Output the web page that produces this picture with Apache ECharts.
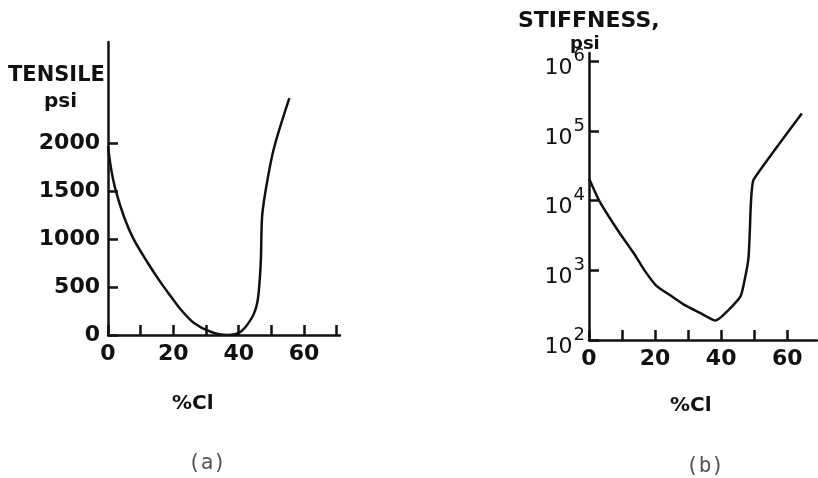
<!DOCTYPE html>
<html><head><meta charset="utf-8">
<script src="https://cdn.jsdelivr.net/npm/echarts@6/dist/echarts.min.js"></script>
<style>html,body{margin:0;padding:0;background:#fff}#c{width:818px;height:478px}</style>
</head><body><div id="c"></div>
<script>
// Panel (a): tensile strength vs % Cl
const tensileX = [0, 1, 2.4, 5, 7.8, 12, 16, 19, 22.2, 26.2, 31.4, 36.5, 40.6, 44.2, 45.7, 46.4, 46.8, 47.2, 48.8, 50.9, 55.5];
const tensileY = [1960, 1720, 1500, 1220, 1000, 760, 553, 412, 268, 128, 34, 0, 34, 190, 340, 560, 800, 1250, 1615, 1960, 2465];
// Panel (b): stiffness vs % Cl (log scale)
const stiffX = [0, 3.2, 8.8, 13.9, 16.8, 20.4, 25, 29, 33.6, 38.3, 45.8, 47.3, 48.3, 48.7, 48.9, 49.2, 49.8, 64.4];
const stiffY = [20900, 9770, 3700, 1660, 1000, 600, 425, 316, 245, 190, 417, 810, 1580, 4000, 7400, 13000, 20000, 178000];
const xTicks = [0, 10, 20, 30, 40, 50, 60, 70];
const xLabels = [0, 20, 40, 60];
const tensileTicks = [0, 500, 1000, 1500, 2000];
const stiffTicks = [100, 1000, 10000, 100000, 1000000];

const FONT = 'DejaVu Sans';
const INK = '#111';
const chart = echarts.init(document.getElementById('c'), null, {renderer: 'canvas'});
const axisLineStyle = {show: true, lineStyle: {color: INK, width: 2.5}};
const tickStyle = {show: true, inside: true, length: 10, lineStyle: {color: INK, width: 2.5}};
const lblStyle = {color: INK, fontFamily: FONT, fontWeight: 'bold', fontSize: 22, formatter: v => String(v)};

chart.setOption({
  animation: false,
  backgroundColor: '#fff',
  grid: [
    {left: 108, top: 42, width: 232, height: 293},
    {left: 589, top: 53, width: 228, height: 287}
  ],
  xAxis: [
    {gridIndex: 0, type: 'value', min: 0, max: 71, splitLine: {show: false},
     axisLine: axisLineStyle, axisTick: Object.assign({customValues: xTicks}, tickStyle),
     axisLabel: Object.assign({customValues: xLabels, margin: 8}, lblStyle)},
    {gridIndex: 1, type: 'value', min: 0, max: 69, splitLine: {show: false},
     axisLine: axisLineStyle, axisTick: Object.assign({customValues: xTicks.slice(0, 7)}, tickStyle),
     axisLabel: Object.assign({customValues: xLabels, margin: 8}, lblStyle)}
  ],
  yAxis: [
    {gridIndex: 0, type: 'value', min: 0, max: 3050, splitLine: {show: false},
     axisLine: axisLineStyle, axisTick: Object.assign({customValues: tensileTicks}, tickStyle),
     axisLabel: Object.assign({customValues: tensileTicks, margin: 8}, lblStyle)},
    {gridIndex: 1, type: 'log', logBase: 10, min: 100, max: 1320000, splitLine: {show: false},
     axisLine: axisLineStyle, axisTick: Object.assign({customValues: stiffTicks}, tickStyle),
     axisLabel: {customValues: stiffTicks, margin: 4,
       formatter: v => '{b|10}{s|' + Math.round(Math.log10(v)) + '}',
       rich: {
         b: {color: INK, fontFamily: FONT, fontSize: 22, padding: [14, 0, 0, 0]},
         s: {color: INK, fontFamily: FONT, fontSize: 18, padding: [0, 0, 10, 1]}
       }}}
  ],
  series: [
    {type: 'line', xAxisIndex: 0, yAxisIndex: 0, smooth: 0.3, symbol: 'none',
     lineStyle: {color: INK, width: 2.5},
     data: tensileX.map((x, i) => [x, tensileY[i]])},
    {type: 'line', xAxisIndex: 1, yAxisIndex: 1, smooth: 0.15, symbol: 'none',
     lineStyle: {color: INK, width: 2.5},
     data: stiffX.map((x, i) => [x, stiffY[i]])}
  ],
  graphic: [
    {type: 'text', left: 8, top: 65, style: {text: 'TENSILE', fill: INK, fontFamily: FONT, fontWeight: 'bold', fontSize: 21}},
    {type: 'text', left: 44, top: 92, style: {text: 'psi', fill: INK, fontFamily: FONT, fontWeight: 'bold', fontSize: 20}},
    {type: 'text', left: 518, top: 10, style: {text: 'STIFFNESS,', fill: INK, fontFamily: FONT, fontWeight: 'bold', fontSize: 22}},
    {type: 'text', left: 570, top: 35, style: {text: 'psi', fill: INK, fontFamily: FONT, fontWeight: 'bold', fontSize: 18}},
    {type: 'text', left: 172, top: 394, style: {text: '%Cl', fill: INK, fontFamily: FONT, fontWeight: 'bold', fontSize: 20}},
    {type: 'text', left: 670, top: 396, style: {text: '%Cl', fill: INK, fontFamily: FONT, fontWeight: 'bold', fontSize: 20}},
    {type: 'text', left: 188, top: 453, style: {text: '(a)', fill: '#555', fontFamily: 'DejaVu Sans Mono', fontSize: 21}},
    {type: 'text', left: 686, top: 456, style: {text: '(b)', fill: '#555', fontFamily: 'DejaVu Sans Mono', fontSize: 21}}
  ]
});
</script></body></html>
